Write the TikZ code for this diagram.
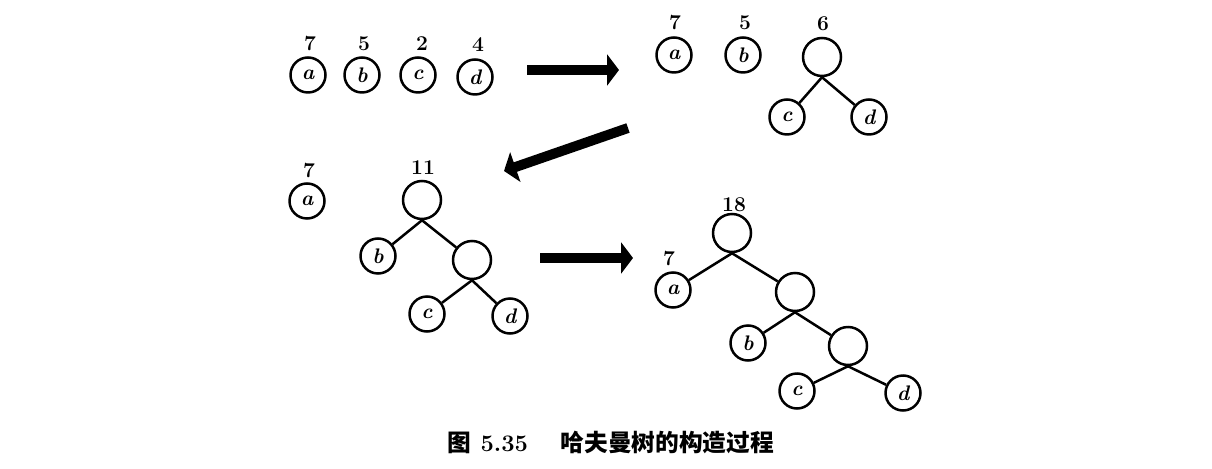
\documentclass[tikz,border=0pt]{standalone}
\usepackage{fontspec}
\newfontfamily\cjk{Noto Sans CJK SC}
\usepackage{tikz}
\usetikzlibrary{arrows.meta}
\usetikzlibrary{shapes,arrows,positioning}
\tikzset{>=latex}
\tikzset{
    leaf/.style={draw, circle, line width=0.5mm, minimum size=0.7cm, inner sep=0pt, font=\bfseries\itshape\large},
    inner/.style={draw, circle, line width=0.5mm, minimum size=0.76cm, inner sep=0pt},
    weight/.style={font=\bfseries\large, inner sep=0pt},
    edge/.style={line width=0.5mm},
    bigarrow/.style={line width=0.2cm, -{Triangle[length=0.24cm, width=0.62cm]}},
}

\begin{document}
\begin{tikzpicture}[x=0.02cm, y=-0.02cm]
        \useasboundingbox (0,0) rectangle (1212,469);

        % step 1: four single nodes
        \node[leaf] (a1) at (308,75) {a};
        \node[leaf] (b1) at (362,75) {b};
        \node[leaf] (c1) at (418,75) {c};
        \node[leaf] (d1) at (475,77) {d};
        \node[weight] (wa1) at (310,44) {7};
        \node[weight] (wb1) at (364,44) {5};
        \node[weight] (wc1) at (422,44) {2};
        \node[weight] (wd1) at (478,45) {4};

        \coordinate (s1) at (527,70);
        \coordinate (e1) at (619,70);
        \draw[bigarrow] (s1) -- (e1);

        % step 2: c and d joined
        \node[leaf] (a2) at (674,55) {a};
        \node[leaf] (b2) at (743,55) {b};
        \node[weight] (wa2) at (675,23) {7};
        \node[weight] (wb2) at (745,23) {5};
        \node[inner] (r2) at (822,57) {};
        \node[weight] (wr2) at (823,24) {6};
        \node[leaf] (c2) at (787,117) {c};
        \node[leaf] (d2) at (869,117) {d};
        \draw[edge] (r2.south) -- (c2);
        \draw[edge] (r2.south) -- (d2);

        \coordinate (s2) at (628,128);
        \coordinate (e2) at (504,171);
        \draw[bigarrow] (s2) -- (e2);

        % step 3: b added
        \node[leaf] (a3) at (307,201) {a};
        \node[weight] (wa3) at (309,171) {7};
        \node[inner] (r3) at (422,200) {};
        \node[weight] (wr3) at (423,168) {11};
        \node[leaf] (b3) at (378,256) {b};
        \node[inner] (n3) at (472,260) {};
        \node[leaf] (c3) at (427,314) {c};
        \node[leaf] (d3) at (510,316) {d};
        \draw[edge] (r3.south) -- (b3);
        \draw[edge] (r3.south) -- (n3);
        \draw[edge] (n3.south) -- (c3);
        \draw[edge] (n3.south) -- (d3);

        \coordinate (s3) at (540,258);
        \coordinate (e3) at (633,258);
        \draw[bigarrow] (s3) -- (e3);

        % step 4: final tree
        \node[inner] (r4) at (732,233) {};
        \node[weight] (wr4) at (734,205) {18};
        \node[leaf] (a4) at (673,290) {a};
        \node[weight] (wa4) at (669,259) {7};
        \node[inner] (n4) at (795,292) {};
        \node[leaf] (b4) at (748,343) {b};
        \node[inner] (m4) at (848,346) {};
        \node[leaf] (c4) at (797,391) {c};
        \node[leaf] (d4) at (903,393) {d};
        \draw[edge] (r4.south) -- (a4);
        \draw[edge] (r4.south) -- (n4);
        \draw[edge] (n4.south) -- (b4);
        \draw[edge] (n4.south) -- (m4);
        \draw[edge] (m4.south) -- (c4);
        \draw[edge] (m4.south) -- (d4);

        % caption
        \node[font=\bfseries\fontsize{13.5}{16}\selectfont] (cap) at (611,442) {{\cjk 图} 5.35\quad\ {\cjk 哈夫曼树的构造过程}};
    \end{tikzpicture}
\end{document}
